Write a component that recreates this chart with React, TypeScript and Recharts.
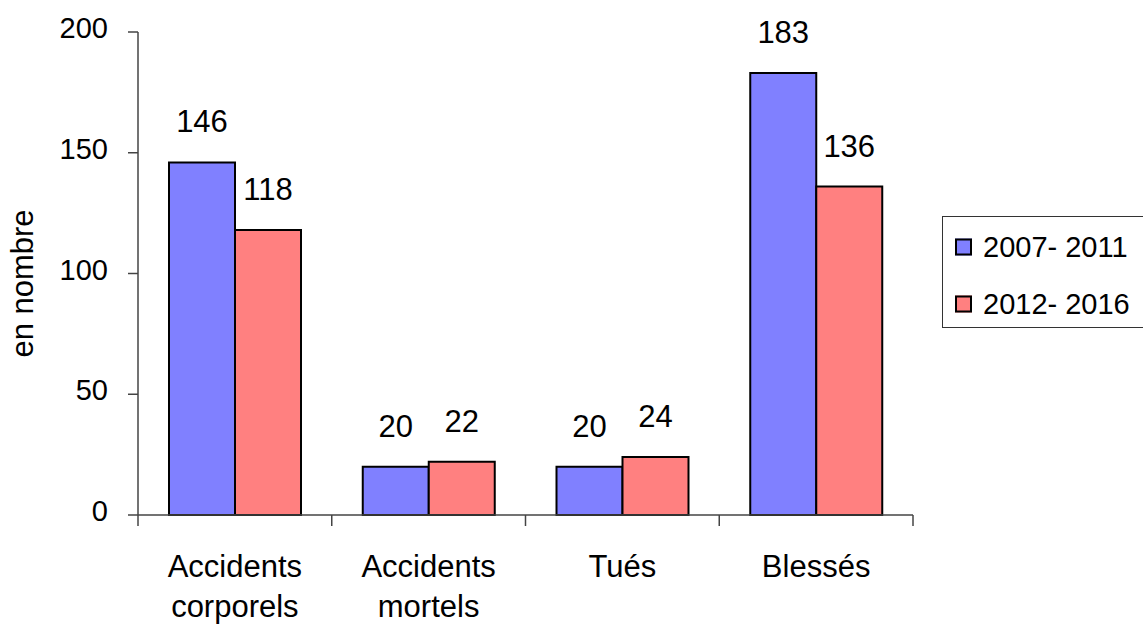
import { BarChart, Bar, XAxis, YAxis, LabelList } from "recharts";

const categories = ["Accidents corporels", "Accidents mortels", "Tués", "Blessés"];
const period1 = [146, 20, 20, 183];
const period2 = [118, 22, 24, 136];
const seriesNames = ["2007- 2011", "2012- 2016"];
const seriesColors = ["#8080FF", "#FF8080"];
const yTicks = [0, 50, 100, 150, 200];

const data = categories.map((name, i) => ({
  name,
  p1: period1[i],
  p2: period2[i],
}));

const FONT = "'Liberation Sans', Arial, sans-serif";

function CategoryTick(props: any) {
  const { x, y, payload, width, visibleTicksCount } = props;
  const half = width && visibleTicksCount ? width / visibleTicksCount / 2 : payload.offset;
  const lines = String(payload.value).split(" ");
  const last = payload.index === visibleTicksCount - 1;
  return (
    <g>
      <line x1={x - half} x2={x - half} y1={y} y2={y + 11} stroke="#444" strokeWidth={1.5} />
      {last && (
        <line x1={x + half} x2={x + half} y1={y} y2={y + 11} stroke="#444" strokeWidth={1.5} />
      )}
      <text x={x} y={y + 62} textAnchor="middle" fontSize={31} fill="#000" fontFamily={FONT}>
        {lines.map((l, i) => (
          <tspan key={i} x={x} dy={i === 0 ? 0 : 40}>
            {l}
          </tspan>
        ))}
      </text>
    </g>
  );
}

function ValueTick({ x, y, payload }: any) {
  return (
    <text x={x} y={y} dy={-4} textAnchor="end" dominantBaseline="central" fontSize={29} fill="#000" fontFamily={FONT}>
      {payload.value}
    </text>
  );
}

function YLabel(props: any) {
  const { viewBox } = props;
  const cx = viewBox.x + 22;
  const cy = viewBox.y + viewBox.height / 2 + 10;
  return (
    <text
      x={cx}
      y={cy}
      transform={`rotate(-90 ${cx} ${cy})`}
      textAnchor="middle"
      dominantBaseline="central"
      fontSize={31}
      fill="#000"
      fontFamily={FONT}
    >
      en nombre
    </text>
  );
}

export default function App() {
  return (
    <div style={{ position: "absolute", left: 0, top: 0, width: 1143, height: 626, background: "#fff", fontFamily: FONT }}>
      <BarChart
        width={1143}
        height={626}
        data={data}
        margin={{ top: 32, right: 230, bottom: 0, left: 0 }}
        barGap={0}
        barCategoryGap="16%"
      >
        <XAxis
          dataKey="name"
          height={111}
          tickSize={0}
          tickMargin={0}
          tickLine={false}
          axisLine={{ stroke: "#444", strokeWidth: 1.5 }}
          tick={<CategoryTick />}
          interval={0}
        />
        <YAxis
          width={138}
          domain={[0, 200]}
          ticks={yTicks}
          tickSize={10}
          tickMargin={20}
          axisLine={{ stroke: "#444", strokeWidth: 1.5 }}
          tickLine={{ stroke: "#444", strokeWidth: 1.5 }}
          tick={<ValueTick />}
          label={<YLabel />}
        />
        <Bar dataKey="p1" name={seriesNames[0]} fill={seriesColors[0]} stroke="#000" strokeWidth={2} isAnimationActive={false}>
          <LabelList dataKey="p1" position="top" offset={30} fontSize={31} fill="#000" fontFamily={FONT} />
        </Bar>
        <Bar dataKey="p2" name={seriesNames[1]} fill={seriesColors[1]} stroke="#000" strokeWidth={2} isAnimationActive={false}>
          <LabelList dataKey="p2" position="top" offset={30} fontSize={31} fill="#000" fontFamily={FONT} />
        </Bar>
      </BarChart>

      <div
        style={{
          position: "absolute",
          left: 942,
          top: 216,
          width: 230,
          height: 112,
          border: "1.5px solid #333",
          boxSizing: "border-box",
        }}
      >
        {seriesNames.map((n, i) => (
          <div
            key={n}
            style={{
              position: "absolute",
              left: 12,
              top: 30 + i * 57,
              transform: "translateY(-50%)",
              display: "flex",
              alignItems: "center",
              whiteSpace: "nowrap",
            }}
          >
            <span
              style={{
                width: 17,
                height: 17,
                boxSizing: "border-box",
                border: "2px solid #000",
                background: seriesColors[i],
                display: "inline-block",
                marginRight: 11,
              }}
            />
            <span style={{ fontSize: 29, color: "#000", lineHeight: 1 }}>{n}</span>
          </div>
        ))}
      </div>
    </div>
  );
}
